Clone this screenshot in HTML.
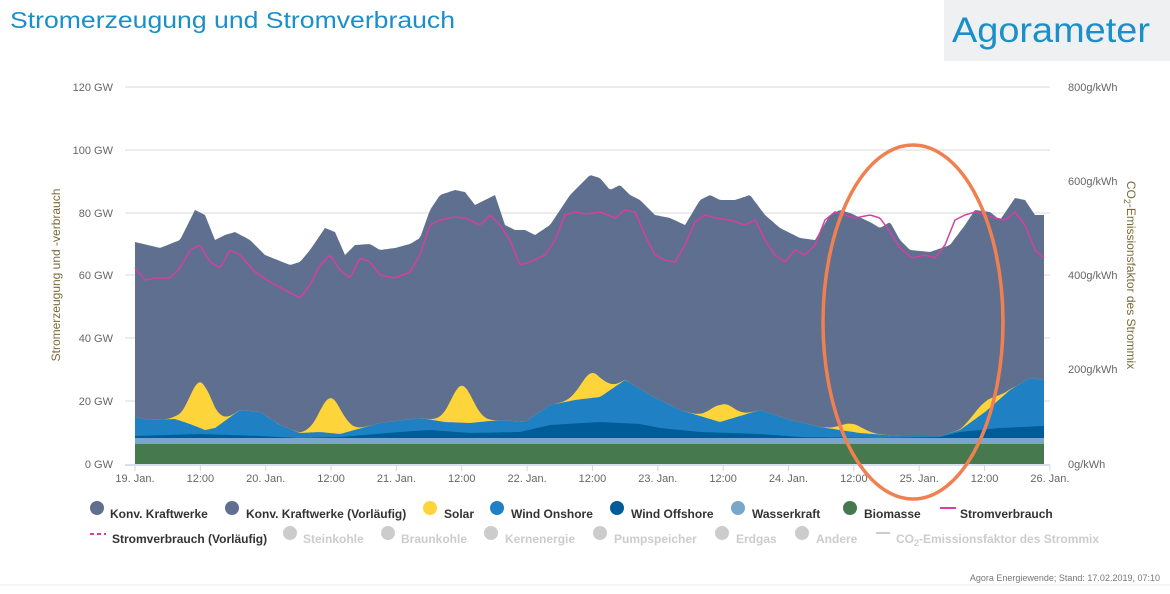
<!DOCTYPE html><html><head><meta charset="utf-8"><style>
body{margin:0;background:#fff;width:1170px;height:589px;overflow:hidden;font-family:"Liberation Sans",sans-serif}
</style></head><body>
<svg id="s" width="1170" height="589" xmlns="http://www.w3.org/2000/svg" font-family="Liberation Sans, sans-serif">
<text x="10" y="28" font-size="23" fill="#1a8fc9" textLength="445" lengthAdjust="spacingAndGlyphs">Stromerzeugung und Stromverbrauch</text>
<rect x="944" y="0" width="226" height="61" fill="#eef0f1"/>
<text x="952" y="42" font-size="35" fill="#1a8fc9" textLength="198" lengthAdjust="spacingAndGlyphs">Agorameter</text>
<g stroke="#e6e6e6" stroke-width="1.5">
<line x1="125" y1="87" x2="1050" y2="87"/><line x1="125" y1="150" x2="1050" y2="150"/><line x1="125" y1="213" x2="1050" y2="213"/><line x1="125" y1="275" x2="1050" y2="275"/><line x1="125" y1="338" x2="1050" y2="338"/><line x1="125" y1="401" x2="1050" y2="401"/>
</g>
<g font-size="11" fill="#666" text-anchor="end">
<text x="113" y="91">120 GW</text><text x="113" y="154">100 GW</text><text x="113" y="217">80 GW</text><text x="113" y="279">60 GW</text><text x="113" y="342">40 GW</text><text x="113" y="405">20 GW</text><text x="113" y="468">0 GW</text>
</g>
<g font-size="11" fill="#666">
<text x="1068" y="91">800g/kWh</text><text x="1068" y="185">600g/kWh</text><text x="1068" y="279">400g/kWh</text><text x="1068" y="373">200g/kWh</text><text x="1068" y="468">0g/kWh</text>
</g>
<text transform="translate(60,275) rotate(-90)" font-size="12" fill="#7a6a3a" text-anchor="middle">Stromerzeugung und -verbrauch</text>
<text transform="translate(1127,275) rotate(90)" font-size="12" fill="#7a6a3a" text-anchor="middle">CO<tspan font-size="9" dy="3">2</tspan><tspan dy="-3">-Emissionsfaktor des Strommix</tspan></text>
<g id="areas"></g>
<line x1="125" y1="465" x2="1050" y2="465" stroke="#ccd6eb" stroke-width="1.5"/>
<g id="ticks" font-size="11" fill="#666" text-anchor="middle"></g>
<ellipse cx="913" cy="322" rx="90" ry="177" fill="none" stroke="#f08050" stroke-width="3.5"/>
<g font-size="12" font-weight="bold" fill="#333">
<circle cx="97" cy="508" r="7" fill="#5f6f8f"/><text x="110" y="518">Konv. Kraftwerke</text>
<circle cx="232" cy="508" r="7" fill="#5f6f8f"/><text x="246" y="518">Konv. Kraftwerke (Vorläufig)</text>
<circle cx="430" cy="508" r="7" fill="#fdd53b"/><text x="444" y="518">Solar</text>
<circle cx="497" cy="508" r="7" fill="#1f80c4"/><text x="511" y="518">Wind Onshore</text>
<circle cx="617" cy="508" r="7" fill="#005c99"/><text x="631" y="518">Wind Offshore</text>
<circle cx="738" cy="508" r="7" fill="#7aa6cc"/><text x="752" y="518">Wasserkraft</text>
<circle cx="850" cy="508" r="7" fill="#467a4e"/><text x="864" y="518">Biomasse</text>
<line x1="940" y1="508" x2="956" y2="508" stroke="#d63fa0" stroke-width="2"/><text x="960" y="518">Stromverbrauch</text>
<line x1="90" y1="534" x2="106" y2="534" stroke="#d63fa0" stroke-width="2" stroke-dasharray="4,3"/><text x="112" y="543">Stromverbrauch (Vorläufig)</text>
</g>
<g font-size="12" font-weight="bold" fill="#ccc">
<circle cx="290" cy="533" r="7" fill="#ccc"/><text x="303" y="543">Steinkohle</text>
<circle cx="388" cy="533" r="7" fill="#ccc"/><text x="401" y="543">Braunkohle</text>
<circle cx="491" cy="533" r="7" fill="#ccc"/><text x="505" y="543">Kernenergie</text>
<circle cx="600" cy="533" r="7" fill="#ccc"/><text x="614" y="543">Pumpspeicher</text>
<circle cx="722" cy="533" r="7" fill="#ccc"/><text x="736" y="543">Erdgas</text>
<circle cx="802" cy="533" r="7" fill="#ccc"/><text x="816" y="543">Andere</text>
<line x1="876" y1="533" x2="890" y2="533" stroke="#ccc" stroke-width="2"/><text x="896" y="543">CO<tspan font-size="9" dy="3">2</tspan><tspan dy="-3">-Emissionsfaktor des Strommix</tspan></text>
</g>
<line x1="0" y1="585" x2="1170" y2="585" stroke="#eee"/>
<text x="1160" y="581" font-size="9" fill="#777" text-anchor="end">Agora Energiewende; Stand: 17.02.2019, 07:10</text>
</svg>
<script>
function interp(pts,x){if(x<=pts[0][0])return pts[0][1];for(let i=1;i<pts.length;i++){if(x<=pts[i][0]){const a=pts[i-1],b=pts[i];return a[1]+(b[1]-a[1])*(x-a[0])/(b[0]-a[0]);}}return pts[pts.length-1][1];}
const X0=135,X1=1044;
const tot=[[135,242],[160,248],[180,240],[195,210],[205,215],[215,240],[225,235],[235,232],[250,240],[265,255],[290,265],[300,262],[310,250],[325,228],[335,232],[345,255],[355,245],[370,244],[380,250],[395,248],[410,244],[420,238],[430,210],[440,195],[455,190],[465,192],[475,205],[485,200],[495,195],[505,225],[515,230],[525,230],[535,235],[550,225],[560,210],[570,195],[580,185],[590,175],[600,178],[610,190],[620,185],[630,195],[640,200],[655,215],[670,218],[685,225],[700,200],[710,195],[720,200],[735,200],[750,195],[765,215],[780,228],[800,238],[815,240],[830,215],[840,210],[850,213],[870,222],[880,228],[890,222],[900,240],[910,250],[930,252],[950,245],[965,225],[975,210],[990,212],[1000,220],[1015,198],[1025,200],[1035,215],[1044,215]];
const pink=[[135,268],[145,280],[155,278],[170,278],[180,268],[190,250],[200,245],[210,262],[220,268],[230,250],[240,255],[255,272],[270,282],[285,290],[300,298],[310,285],[320,265],[330,255],[340,270],[350,278],[360,258],[370,262],[380,275],[395,278],[410,272],[420,255],[430,225],[440,220],[455,217],[465,218],[480,225],[490,215],[500,225],[510,240],[520,265],[530,262],[545,255],[555,240],[565,215],[575,212],[585,214],[600,212],[615,218],[625,210],[635,212],[645,235],[655,255],[665,260],[675,262],[685,245],[695,222],[705,215],[715,218],[730,220],[745,225],[755,220],[765,240],[775,255],[785,262],[795,250],[805,255],[815,245],[825,220],[835,212],[845,215],[855,218],[870,215],[880,218],[890,232],[900,248],[912,258],[925,255],[935,258],[945,245],[955,220],[965,215],[975,212],[985,215],[995,218],[1005,220],[1015,212],[1025,225],[1035,250],[1044,258]];
const off=[[135,436],[200,434],[260,436],[300,438],[340,437],[400,432],[430,430],[470,433],[520,432],[550,425],[600,422],[640,424],[660,428],[700,432],[760,434],[800,437],[880,438],[940,437],[960,432],[1000,428],[1044,426]];
const on=[[135,417],[150,420],[175,419],[190,424],[205,430],[215,428],[240,410],[260,412],[280,425],[300,433],[320,432],[340,434],[380,423],[420,418],[445,422],[470,423],[500,420],[525,422],[550,405],[575,400],[600,397],[625,380],[650,395],[680,410],[720,422],[760,410],[790,420],[820,427],[860,433],[900,436],[940,436],[960,430],[985,412],[1010,390],[1030,378],[1044,380]];
const bumps=[[201,46],[331,35],[462,37],[592,25],[722,17],[852,8],[985,10]];
function solar(x){let y=interp(on,x);for(const b of bumps)y-=b[1]*Math.exp(-((x-b[0])**2)/(2*11*11));return y;}
const xs=[];for(let x=X0;x<=X1;x+=2)xs.push(x);if(xs[xs.length-1]!==X1)xs.push(X1);
function area(f,base,col){let d='M'+xs.map(x=>x+','+f(x).toFixed(1)).join(' L');for(let i=xs.length-1;i>=0;i--)d+=' L'+xs[i]+','+base(xs[i]).toFixed(1);return '<path d="'+d+' Z" fill="'+col+'"/>';}
const c=k=>()=>k;
let h='';
h+=area(x=>interp(tot,x),c(464),'#5f6f8f');
h+=area(solar,c(464),'#fdd53b');
h+=area(x=>interp(on,x),c(464),'#1f80c4');
h+=area(x=>interp(off,x),c(464),'#005c99');
h+=area(c(438),c(464),'#7aa6cc');
h+=area(c(444),c(464),'#467a4e');
h+='<path d="M'+xs.map(x=>x+','+interp(pink,x).toFixed(1)).join(' L')+'" fill="none" stroke="#d63fa0" stroke-width="1.5"/>';
document.getElementById('areas').innerHTML=h;
const lab=['19. Jan.','12:00','20. Jan.','12:00','21. Jan.','12:00','22. Jan.','12:00','23. Jan.','12:00','24. Jan.','12:00','25. Jan.','12:00','26. Jan.'];
let t='';lab.forEach((l,i)=>{const x=135+i*65.35;t+='<line x1="'+x+'" y1="465" x2="'+x+'" y2="471" stroke="#ccd6eb"/><text x="'+x+'" y="482">'+l+'</text>';});
document.getElementById('ticks').innerHTML=t;
</script>
</body></html>
